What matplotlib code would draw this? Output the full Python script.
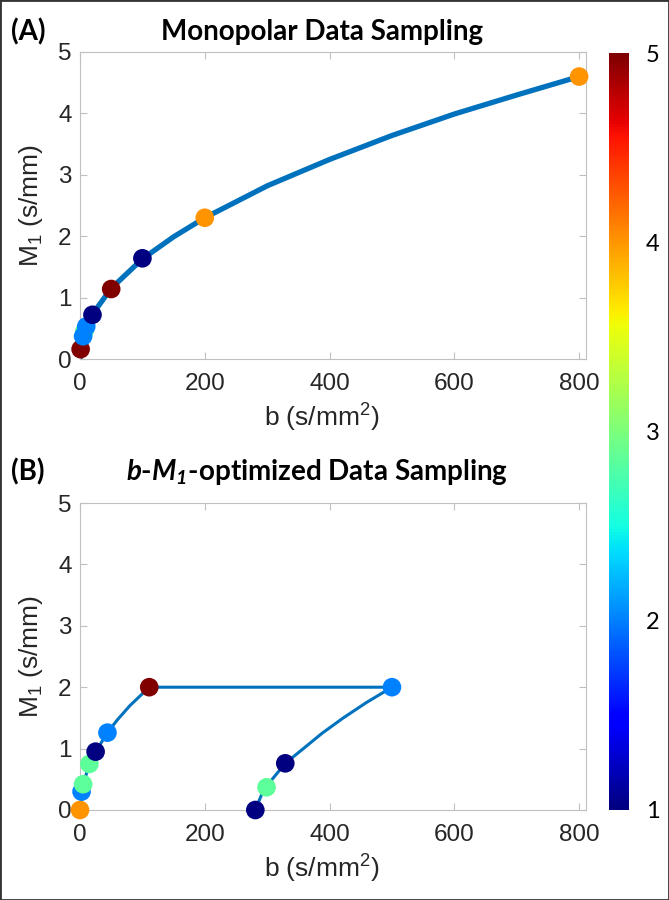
import matplotlib
matplotlib.use("Agg")
import matplotlib.pyplot as plt
from matplotlib.patches import Rectangle

plt.rcParams['font.family'] = ['Liberation Sans', 'DejaVu Sans']
plt.rcParams['mathtext.fontset'] = 'custom'
plt.rcParams['mathtext.rm'] = 'Liberation Sans'
plt.rcParams['mathtext.it'] = 'Liberation Sans:italic'
plt.rcParams['mathtext.bf'] = 'Lato:bold'
plt.rcParams['mathtext.bfit'] = 'Lato:bold:italic'

# (A) monopolar sampling: b, M1 and colour value of each point
b_mono = [1, 7, 5, 10, 20, 50, 100, 200, 800]
m1_mono = [0.16, 0.45, 0.37, 0.53, 0.72, 1.14, 1.64, 2.30, 4.60]
c_mono = [5, 2.85, 2, 2, 1, 5, 1, 4, 4]

# line through panel A
b_line_a = [0, 1, 5, 10, 20, 50, 100, 150, 200, 300, 400, 500, 600, 700, 800]
m1_line_a = [0, 0.16, 0.36, 0.51, 0.73, 1.15, 1.63, 1.99, 2.30, 2.82, 3.25, 3.64, 3.99, 4.30, 4.60]

# (B) b-M1-optimized sampling
b_opt = [0, 2.5, 5, 15, 25, 44, 111, 500, 329, 299, 281]
m1_opt = [0, 0.30, 0.42, 0.75, 0.95, 1.26, 2.0, 2.0, 0.76, 0.37, 0]
c_opt = [4, 2, 2.85, 2.85, 1, 2, 5, 2, 1, 2.85, 1]

# path in panel B
b_line_b = [0, 2.5, 5, 15, 25, 44, 60, 80, 111, 500, 459, 422, 388, 358, 329, 308, 299, 291, 281]
m1_line_b = [0, 0.30, 0.42, 0.74, 0.95, 1.26, 1.47, 1.70, 2.0, 2.0, 1.75, 1.5, 1.25, 1.0, 0.76, 0.5, 0.37, 0.25, 0]

W, H = 669, 900
fig = plt.figure(figsize=(W / 100, H / 100), dpi=100)
fig.patches.append(Rectangle((0, 0), 1, 1, transform=fig.transFigure, fill=False,
                             edgecolor='#333333', linewidth=2))


def box(l, t, r, b):
    return [l / W, 1 - b / H, (r - l) / W, (b - t) / H]


def style(ax):
    ax.set_xlim(0, 811)
    ax.set_ylim(0, 5)
    ax.set_xticks([0, 200, 400, 600, 800])
    ax.set_yticks([0, 1, 2, 3, 4, 5])
    ax.tick_params(direction='in', top=True, right=True, length=5, width=0.8,
                   color='#c0c0c0', labelsize=17.5, labelcolor='#262626', pad=6)
    ax.tick_params(axis='x', pad=10)
    for s in ax.spines.values():
        s.set_color('#c0c0c0')
        s.set_linewidth(0.8)
    ax.set_xlabel('b (s/mm$^2$)', fontsize=19, color='#262626')
    ax.set_ylabel('M$_1$ (s/mm)', fontsize=19, color='#262626')
    ax.xaxis.set_label_coords(0.478, -0.14)
    ax.yaxis.set_label_coords(-0.07, 0.5)


ax1 = fig.add_axes(box(80, 52, 586, 359))
ax1.plot(b_line_a, m1_line_a, color='#0072BD', lw=3.8, zorder=2)
sc = ax1.scatter(b_mono, m1_mono, c=c_mono, cmap='jet', vmin=1, vmax=5, s=180,
                 edgecolors='none', zorder=3, clip_on=False)
style(ax1)

ax2 = fig.add_axes(box(80, 503, 586, 810))
ax2.plot(b_line_b, m1_line_b, color='#0072BD', lw=2.2, zorder=2)
ax2.scatter(b_opt, m1_opt, c=c_opt, cmap='jet', vmin=1, vmax=5, s=180,
            edgecolors='none', zorder=3, clip_on=False)
style(ax2)

cax = fig.add_axes(box(609, 53, 629, 810))
cb = fig.colorbar(sc, cax=cax, ticks=[1, 2, 3, 4, 5])
cb.outline.set_visible(False)
cax.tick_params(length=0, labelsize=17, pad=12)
for t in cax.get_yticklabels():
    t.set_fontfamily('Lato')

fig.text(28 / W, 1 - 32 / H, '(A)', fontsize=20, fontweight='bold', family='Lato',
         ha='center', va='center')
fig.text(322 / W, 1 - 32 / H, 'Monopolar Data Sampling', fontsize=20, fontweight='bold',
         family='Lato', ha='center', va='center')
fig.text(28 / W, 1 - 472 / H, '(B)', fontsize=20, fontweight='bold', family='Lato',
         ha='center', va='center')
fig.text(317 / W, 1 - 472 / H, r'$\mathbfit{b}$-$\mathbfit{M}_\mathbfit{1}$-optimized Data Sampling',
         fontsize=20, fontweight='bold', family='Lato', ha='center', va='center')

fig.savefig('out.png', dpi=100)
